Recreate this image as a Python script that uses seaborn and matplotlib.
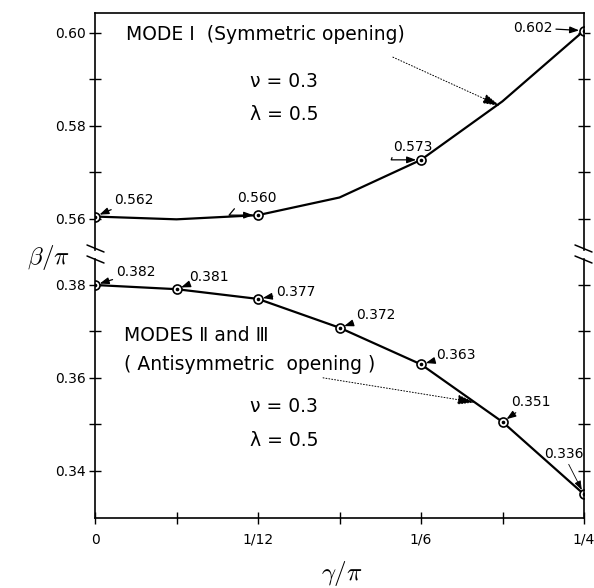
import matplotlib
matplotlib.use('Agg')
import matplotlib.pyplot as plt
import seaborn as sns
from matplotlib.lines import Line2D


# ===================================
# Data
# ===================================
X_TICKS       = [0, 1/24, 1/12, 1/8, 1/6, 5/24, 1/4]
X_TICK_LABELS = ['0', '', '1/12', '', '1/6', '', '1/4']

# Mode I (symmetric opening) - curve with circles at every second point
mode1_x      = [0, 1/24, 1/12, 1/8, 1/6, 5/24, 1/4]
mode1_y      = [0.5605, 0.5599, 0.5608, 0.5646, 0.5727, 0.5853, 0.6005]
mode1_marked = [0, 2, 4, 6]
mode1_labels = ['0.562', '0.560', '0.573', '0.602']

# Modes II and III (antisymmetric opening)
mode23_x      = [0, 1/24, 1/12, 1/8, 1/6, 5/24, 1/4]
mode23_y      = [0.3800, 0.3791, 0.3770, 0.3708, 0.3629, 0.3505, 0.3349]
mode23_labels = ['0.382', '0.381', '0.377', '0.372', '0.363', '0.351', '0.336']

UPPER_YTICKS = [0.56, 0.58, 0.60]
LOWER_YTICKS = [0.34, 0.36, 0.38]


# ===================================
# Layout (offsets of value labels, in points)
# ===================================
mode1_offsets  = [(14, 12), (-15, 12), (-20, 9), (-51, 2)]
mode23_offsets = [(15, 9), (9, 9), (13, 5), (12, 9), (11, 7), (6, 14), (-29, 29)]
W, H = 594, 588


def style_axis(ax):
    ax.tick_params(axis='both', which='both', direction='inout', width=1,
                   labelsize=10, right=True, top=False, pad=2, color='black',
                   labelcolor='black')
    ax.tick_params(which='major', length=9)
    ax.tick_params(which='minor', length=9)
    for s in ax.spines.values():
        s.set_linewidth(1.2)
        s.set_color('black')


def draw_curve(ax, x, y, markevery):
    sns.lineplot(x=x, y=y, ax=ax, color='black', lw=1.6, sort=True,
                 marker='o', markevery=markevery, ms=6.5, mfc='white',
                 mec='black', mew=1.2)
    ax.plot([x[i] for i in markevery], [y[i] for i in markevery],
            ls='none', marker='o', ms=1.6, color='black')


def label_points(ax, x, y, idx, labels, offsets, special=None):
    special = special or {}
    for k, (i, lab, off) in enumerate(zip(idx, labels, offsets)):
        props = dict(arrowstyle='-|>,head_length=0.55,head_width=0.2',
                     color='black', lw=0.9, shrinkA=0, shrinkB=3.5)
        props.update(special.get(k, {}))
        ax.annotate(lab, xy=(x[i], y[i]), xytext=off, textcoords='offset points',
                    ha='left', va='center', fontsize=10, color='black',
                    arrowprops=props)


sns.set_theme(style='ticks')
plt.rcParams['font.family'] = ['DejaVu Sans']
plt.rcParams['mathtext.fontset'] = 'cm'
plt.rcParams['text.color'] = 'black'

fig = plt.figure(figsize=(W / 100, H / 100), dpi=100)
left, width = 95 / W, (584 - 95) / W
ax_up = fig.add_axes([left, 1 - 250 / H, width, (250 - 13) / H])
ax_lo = fig.add_axes([left, 1 - 518 / H, width, (518 - 259) / H])

# ---- upper panel: mode I
draw_curve(ax_up, mode1_x, mode1_y, mode1_marked)
ax_up.set_xlim(0, 0.25)
ax_up.set_ylim(0.5533, 0.6043)
ax_up.set_yticks(UPPER_YTICKS)
ax_up.set_yticklabels([f'{v:.2f}' for v in UPPER_YTICKS])
ax_up.set_yticks([0.57, 0.59], minor=True)
ax_up.set_xticks([])
ax_up.spines['bottom'].set_visible(False)
style_axis(ax_up)

bent = {'connectionstyle': 'angle,angleA=50,angleB=0,rad=0', 'relpos': (0, 0)}
bent2 = {'connectionstyle': 'angle,angleA=70,angleB=0,rad=0', 'relpos': (0, 0)}
label_points(ax_up, mode1_x, mode1_y, mode1_marked, mode1_labels, mode1_offsets,
             special={1: bent, 2: bent2})

ax_up.text(0.0158, 0.5996, 'MODE Ⅰ  (Symmetric opening)', fontsize=13.5,
           ha='left', va='center')
ax_up.text(0.079, 0.5895, 'ν = 0.3', fontsize=13.5, ha='left', va='center')
ax_up.text(0.079, 0.5824, 'λ = 0.5', fontsize=13.5, ha='left', va='center')
ax_up.annotate('', xy=(0.2071, 0.5843), xytext=(0.1523, 0.5948),
               arrowprops=dict(arrowstyle='-|>,head_length=0.9,head_width=0.25',
                               color='black', lw=0.7, ls=(0, (1, 2)),
                               shrinkA=0, shrinkB=0))

# ---- lower panel: modes II and III
all_idx = list(range(len(mode23_x)))
draw_curve(ax_lo, mode23_x, mode23_y, all_idx)
ax_lo.set_xlim(0, 0.25)
ax_lo.set_ylim(0.3298, 0.3856)
ax_lo.set_yticks(LOWER_YTICKS)
ax_lo.set_yticklabels([f'{v:.2f}' for v in LOWER_YTICKS])
ax_lo.set_yticks([0.35, 0.37], minor=True)
ax_lo.set_xticks(X_TICKS)
ax_lo.set_xticklabels(X_TICK_LABELS)
ax_lo.spines['top'].set_visible(False)
style_axis(ax_lo)
ax_lo.tick_params(axis='x', bottom=True, pad=6)

label_points(ax_lo, mode23_x, mode23_y, all_idx, mode23_labels, mode23_offsets,
             special={6: {'lw': 0.6}})

ax_lo.text(0.0148, 0.3691, 'MODES Ⅱ and Ⅲ', fontsize=13.5, ha='left', va='center')
ax_lo.text(0.0148, 0.3629, '( Antisymmetric  opening )', fontsize=13.5,
           ha='left', va='center')
ax_lo.text(0.0792, 0.3538, 'ν = 0.3', fontsize=13.5, ha='left', va='center')
ax_lo.text(0.0792, 0.3464, 'λ = 0.5', fontsize=13.5, ha='left', va='center')
ax_lo.annotate('', xy=(0.1943, 0.3547), xytext=(0.1166, 0.3600),
               arrowprops=dict(arrowstyle='-|>,head_length=0.9,head_width=0.25',
                               color='black', lw=0.7, ls=(0, (1, 2)),
                               shrinkA=0, shrinkB=0))

# ---- axis break marks
for x0 in (87, 575):
    for y0 in (245, 256):
        fig.add_artist(Line2D([x0 / W, (x0 + 17) / W], [1 - y0 / H, 1 - (y0 + 7) / H],
                              color='black', lw=1.1))

fig.text(48 / W, 1 - 258 / H, r'$\beta/\pi$', fontsize=18, ha='center', va='center')
fig.text(342 / W, 1 - 573 / H, r'$\gamma/\pi$', fontsize=18, ha='center', va='center')

plt.savefig('out.png', dpi=100)
plt.close()
